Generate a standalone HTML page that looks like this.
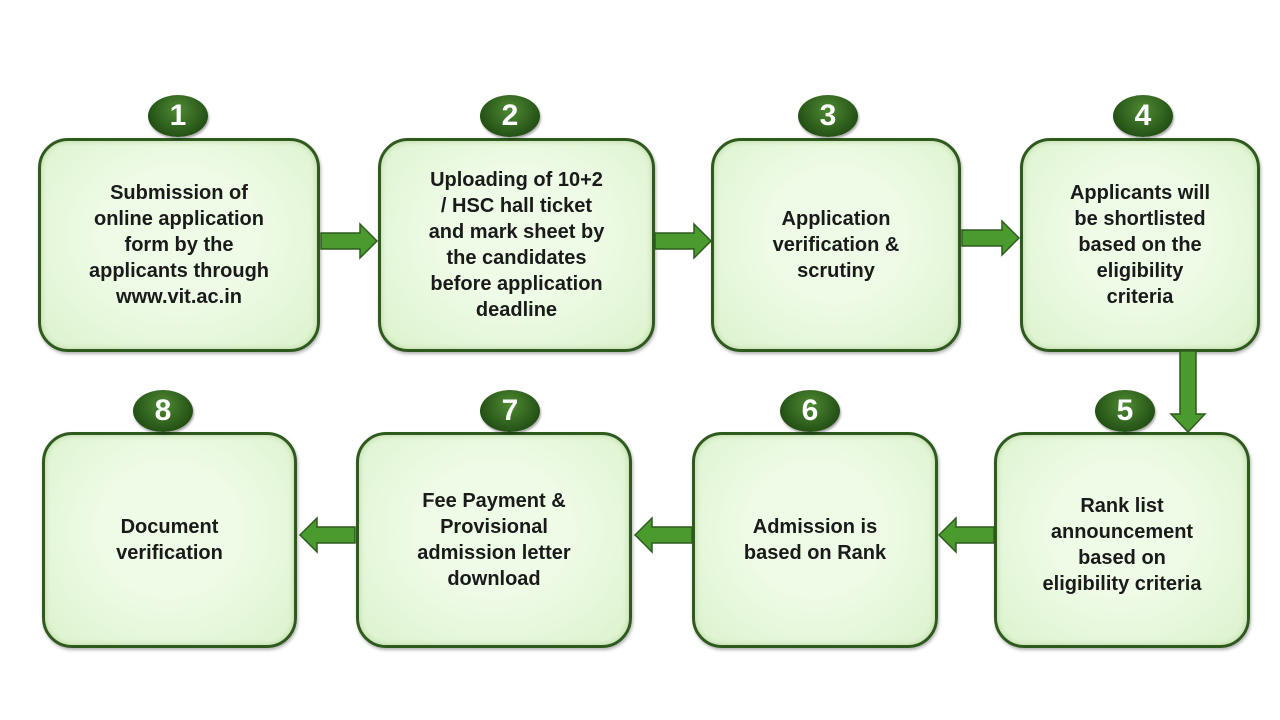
<!DOCTYPE html>
<html><head><style>
body{margin:0;width:1280px;height:720px;background:#fff;position:relative;overflow:hidden;font-family:"Liberation Sans",sans-serif}
.b{position:absolute;box-sizing:border-box;border:3px solid #2f5a1e;border-radius:30px;background:radial-gradient(ellipse at 50% 45%,#eefbe6 40%,#dcf2cd 100%);box-shadow:inset 0 0 6px #b5d39f,1px 2px 3px rgba(0,0,0,.3);display:flex;align-items:center;justify-content:center;text-align:center;font-weight:bold;font-size:20px;line-height:26px;color:#1a1a1a;padding:0 14px}
.n{position:absolute;width:60px;height:42px;border-radius:50%;background:radial-gradient(ellipse at 50% 35%,#4e8a33,#1f4a12 80%);color:#fff;font-weight:bold;font-size:30px;line-height:42px;text-align:center;box-shadow:1px 2px 2px rgba(0,0,0,.35)}
svg{position:absolute;left:0;top:0}
</style></head><body>
<div class="b" style="left:38px;top:138px;width:282px;height:214px">Submission of<br>online application<br>form by the<br>applicants through<br>www.vit.ac.in</div>
<div class="b" style="left:378px;top:138px;width:277px;height:214px">Uploading of 10+2<br>/ HSC hall ticket<br>and mark sheet by<br>the candidates<br>before application<br>deadline</div>
<div class="b" style="left:711px;top:138px;width:250px;height:214px">Application<br>verification &amp;<br>scrutiny</div>
<div class="b" style="left:1020px;top:138px;width:240px;height:214px">Applicants will<br>be shortlisted<br>based on the<br>eligibility<br>criteria</div>
<div class="b" style="left:994px;top:432px;width:256px;height:216px;padding-top:10px">Rank list<br>announcement<br>based on<br>eligibility criteria</div>
<div class="b" style="left:692px;top:432px;width:246px;height:216px">Admission is<br>based on Rank</div>
<div class="b" style="left:356px;top:432px;width:276px;height:216px">Fee Payment &amp;<br>Provisional<br>admission letter<br>download</div>
<div class="b" style="left:42px;top:432px;width:255px;height:216px">Document<br>verification</div>
<div class="n" style="left:148px;top:95px">1</div>
<div class="n" style="left:480px;top:95px">2</div>
<div class="n" style="left:798px;top:95px">3</div>
<div class="n" style="left:1113px;top:95px">4</div>
<div class="n" style="left:1095px;top:390px">5</div>
<div class="n" style="left:780px;top:390px">6</div>
<div class="n" style="left:480px;top:390px">7</div>
<div class="n" style="left:133px;top:390px">8</div>
<svg width="1280" height="720">
<g fill="#4a9a2e" stroke="#2f5a1e" stroke-width="1.5">
<polygon points="321,233 360,233 360,224 377,241 360,258 360,249 321,249"/>
<polygon points="655,233 694,233 694,224 711,241 694,258 694,249 655,249"/>
<polygon points="962,230 1002,230 1002,221 1019,238 1002,255 1002,246 962,246"/>
<polygon points="1180,351 1196,351 1196,414 1205,414 1188,432 1171,414 1180,414"/>
<polygon points="994,527 956,527 956,518 939,535 956,552 956,543 994,543"/>
<polygon points="692,527 652,527 652,518 635,535 652,552 652,543 692,543"/>
<polygon points="355,527 317,527 317,518 300,535 317,552 317,543 355,543"/>
</g></svg>
</body></html>
